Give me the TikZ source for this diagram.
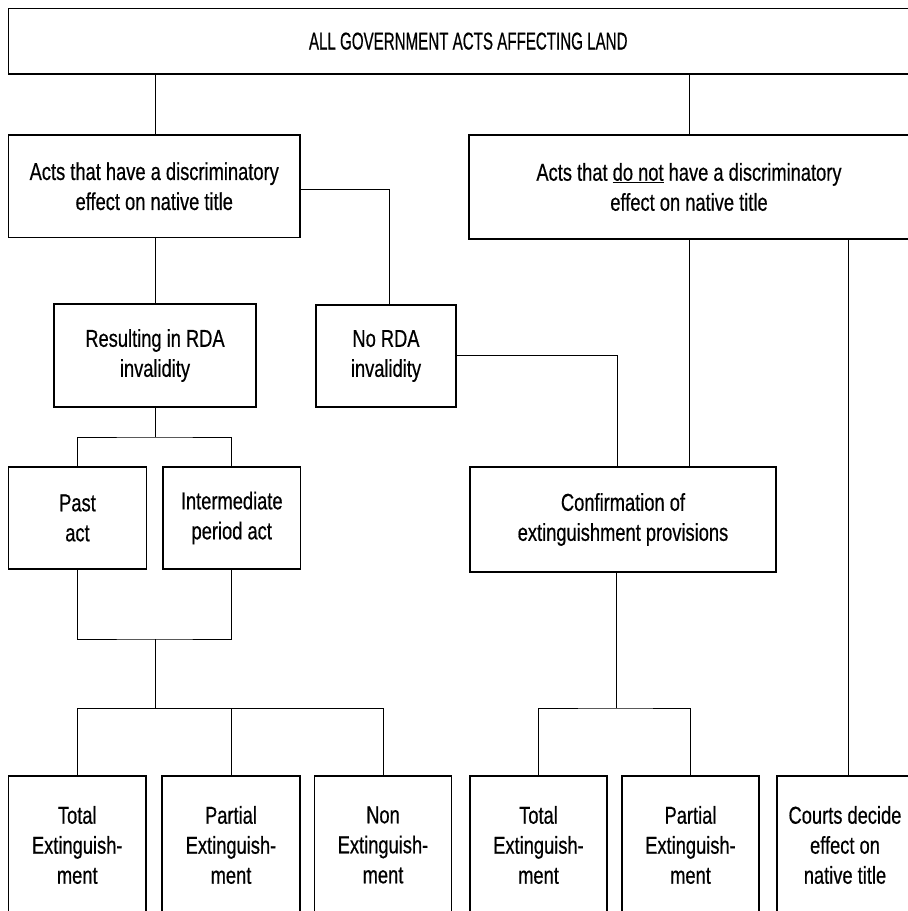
\documentclass[tikz,border=0pt]{standalone}
\usepackage{fontspec}
\setmainfont{Liberation Sans}[FakeStretch=0.75,FakeBold=0.5]
\newfontfamily\titlefont{Liberation Sans}[FakeStretch=0.62,FakeBold=0.5]
\begin{document}
\begin{tikzpicture}[x=1pt,y=-1pt,
  box/.style={draw=black, line width=1.4pt, inner sep=0pt, align=center,
    font=\fontsize{24.4}{30}\selectfont},
  conn/.style={draw=black, line width=1pt}]
\useasboundingbox (0,0) rectangle (908,911);
\clip (0,0) rectangle (908,911);
% boxes
\node[box, minimum width=919.5, minimum height=65.7, font=\titlefont\fontsize{24.4}{30}\selectfont] (top) at (468.25,41.15) {ALL GOVERNMENT ACTS AFFECTING LAND};
\node[box, minimum width=291.5, minimum height=102.5] (A) at (154.25,186.25) {Acts that have a discriminatory\\effect on native title};
\node[box, minimum width=440, minimum height=104] (B) at (689,187) {Acts that \underline{do not} have a discriminatory\\effect on native title};
\node[box, minimum width=202, minimum height=103] (R) at (155,355.5) {Resulting in RDA\\invalidity};
\node[box, minimum width=140, minimum height=102] (N) at (386,356) {No RDA\\invalidity};
\node[box, minimum width=138, minimum height=102] (P) at (77.5,518) {Past\\act};
\node[box, minimum width=137.5, minimum height=102] (I) at (231.75,518) {Intermediate\\period act};
\node[box, minimum width=306, minimum height=105] (C) at (623,519.5) {Confirmation of\\extinguishment provisions};
\node[box, minimum width=137.5, minimum height=138] (T1) at (77.25,845) {Total\\Extinguish-\\ment};
\node[box, minimum width=138, minimum height=138] (P1) at (231,845) {Partial\\Extinguish-\\ment};
\node[box, minimum width=137, minimum height=138] (N1) at (383,845) {Non\\Extinguish-\\ment};
\node[box, minimum width=137, minimum height=138] (T2) at (538.5,845) {Total\\Extinguish-\\ment};
\node[box, minimum width=137, minimum height=138] (P2) at (690.5,845) {Partial\\Extinguish-\\ment};
\node[box, minimum width=136, minimum height=138] (CD) at (845,845) {Courts decide\\effect on\\native title};
% junctions
\coordinate (j1) at (155,437);
\coordinate (j2) at (155,639);
\coordinate (j3) at (155,708);
\coordinate (j4) at (616.5,708);
% connectors
\draw[conn] ([xshift=1.5]A.north) -- ([xshift=1.5]A.north |- top.south);
\draw[conn] (B.north) -- (B.north |- top.south);
\draw[conn] ([yshift=-3]A.east) -| ([xshift=3]N.north);
\draw[conn] ([xshift=1.5]A.south) -- ([xshift=1.5]A.south |- R.north);
\draw[conn] ([yshift=1]N.east) -| ([xshift=-6]C.north);
\draw[conn] (B.south) -- (B.south |- C.north);
\draw[conn] ([xshift=3]CD.north) -- ([xshift=3]CD.north |- B.south);
\draw[conn] (R.south) -- (j1);
\draw[conn] (P.north) |- (j1) -| (I.north);
\draw[conn] (P.south) |- (j2) -| (I.south);
\draw[conn] (j2) -- (j3);
\draw[conn] (T1.north) |- (N1.north |- j3) -- (N1.north);
\draw[conn] (P1.north) -- (P1.north |- j3);
\draw[conn] ([xshift=-6.5]C.south) -- (j4);
\draw[conn] (T2.north) |- (j4) -| (P2.north);
\end{tikzpicture}
\end{document}
